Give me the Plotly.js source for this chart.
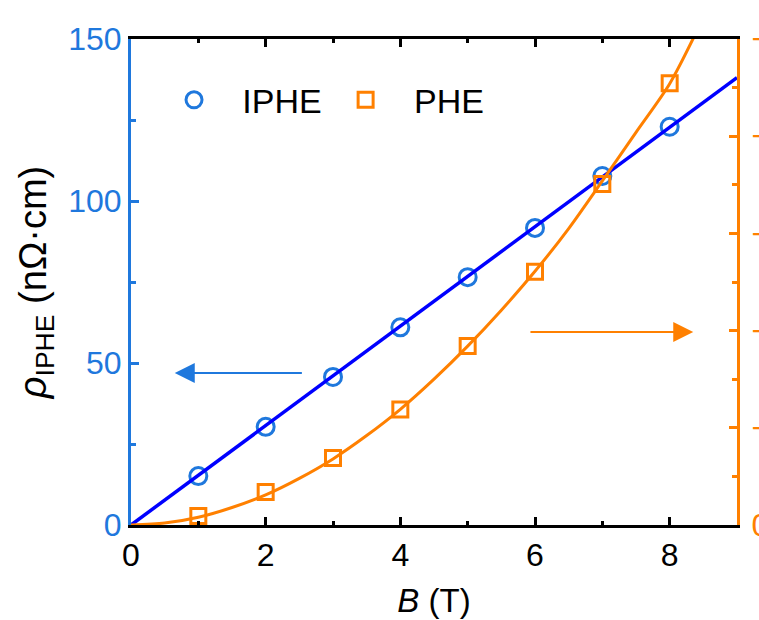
<!DOCTYPE html>
<html>
<head>
<meta charset="utf-8">
<script src="https://cdn.plot.ly/plotly-3.0.1.min.js"></script>
<style>
  html, body { margin: 0; padding: 0; overflow: hidden; background: #fff; }
  #chart { width: 820px; height: 620px; }
</style>
</head>
<body>
<div id="chart"></div>
<script>
// Measured points: field B (T)
const fieldB = [1, 2, 3, 4, 5, 6, 7, 8];
// In-plane planar Hall resistivity (left axis, nΩ·cm)
const rhoIPHE = [15.1, 30.3, 45.7, 61.0, 76.5, 91.7, 107.7, 122.9];
// Planar Hall resistivity (right axis)
const rhoPHE = [-4.6, -17.0, -34.5, -59.4, -92.1, -130.3, -175.4, -227.2];

// Linear fit to IPHE
const fitIPHEB = [0, 9];
const fitIPHE = [0, 138.1];
// Smooth fit to PHE
const fitPHEB = [0, 0.5, 1, 1.5, 2, 2.5, 3, 3.5, 4, 4.5, 5, 5.5, 6, 6.5, 7, 7.5, 8, 8.5];
const fitPHE = [0, -1.0, -4.0, -9.0, -15.5, -24, -34, -46, -59.5, -75, -92, -110.5, -130.5, -152.5, -177, -202, -227, -261];

// Arrow anchors pointing each data set to its axis
const arrowLeft = { tail: [2.56, 46.9], head: [0.65, 46.9] };
const arrowRight = { tail: [5.91, 59.6], head: [8.35, 59.6] };

const FONT = 'Liberation Sans, Arial, sans-serif';
const BLUE_AXIS = '#1f78dd';
const BLUE_LINE = '#0000ff';
const ORANGE = '#ff8000';
const NB = '\u00a0';

const traces = [
  {
    x: fieldB, y: rhoIPHE, type: 'scatter', mode: 'markers',
    name: NB + NB + NB + 'IPHE' + NB + NB,
    marker: { symbol: 'circle-open', size: 17, color: BLUE_AXIS, line: { width: 3, color: BLUE_AXIS } },
    yaxis: 'y', showlegend: true
  },
  {
    x: fieldB, y: rhoPHE, type: 'scatter', mode: 'markers',
    name: NB + NB + NB + 'PHE',
    marker: { symbol: 'square-open', size: 15, color: ORANGE, line: { width: 3, color: ORANGE } },
    yaxis: 'y2', showlegend: true
  },
  {
    x: fitIPHEB, y: fitIPHE, type: 'scatter', mode: 'lines',
    line: { color: BLUE_LINE, width: 3.5 }, yaxis: 'y', showlegend: false, hoverinfo: 'skip'
  },
  {
    x: fitPHEB, y: fitPHE, type: 'scatter', mode: 'lines',
    line: { color: ORANGE, width: 3, shape: 'spline', smoothing: 0.8 }, yaxis: 'y2', showlegend: false, hoverinfo: 'skip'
  }
];

const layout = {
  width: 820, height: 620,
  margin: { l: 131, r: 83, t: 39, b: 95 },
  paper_bgcolor: '#fff', plot_bgcolor: '#fff',
  font: { family: FONT, size: 32, color: '#000' },
  showlegend: true,
  legend: {
    orientation: 'h', x: 0.071, y: 0.874, xanchor: 'left', yanchor: 'middle',
    font: { family: FONT, size: 34, color: '#000' }, bgcolor: 'rgba(0,0,0,0)'
  },
  xaxis: {
    range: [0, 9], tick0: 0, dtick: 2,
    showline: true, linecolor: '#000', linewidth: 3, mirror: 'ticks',
    ticks: 'inside', ticklen: 8, tickwidth: 3, tickcolor: '#000',
    minor: { dtick: 1, ticks: 'inside', ticklen: 4, tickwidth: 3, tickcolor: '#000' },
    showgrid: false, zeroline: false,
    tickfont: { family: FONT, size: 32, color: '#000' },
    title: { text: '<i>B</i> (T)', font: { family: FONT, size: 33, color: '#000' }, standoff: 17 }
  },
  yaxis: {
    range: [0, 150], tick0: 0, dtick: 50,
    showline: true, linecolor: BLUE_AXIS, linewidth: 3,
    ticks: 'inside', ticklen: 8, tickwidth: 3, tickcolor: BLUE_AXIS,
    minor: { dtick: 25, ticks: 'inside', ticklen: 5, tickwidth: 3, tickcolor: BLUE_AXIS },
    showgrid: false, zeroline: false,
    tickfont: { family: FONT, size: 32, color: BLUE_AXIS },
    title: { text: NB + NB + '<i>ρ</i><sub>IPHE</sub> (nΩ·cm)', font: { family: FONT, size: 38, color: '#000' }, standoff: 10 }
  },
  yaxis2: {
    overlaying: 'y', side: 'right',
    range: [0, -250], tick0: 0, dtick: 50,
    showline: true, linecolor: ORANGE, linewidth: 3,
    ticks: 'inside', ticklen: 8, tickwidth: 3, tickcolor: ORANGE,
    minor: { dtick: 25, ticks: 'inside', ticklen: 5, tickwidth: 3, tickcolor: ORANGE },
    showgrid: false, zeroline: false,
    ticklabelstandoff: 5,
    tickfont: { family: FONT, size: 32, color: ORANGE }
  },
  annotations: [
    {
      xref: 'x', yref: 'y', axref: 'x', ayref: 'y',
      x: arrowLeft.head[0], y: arrowLeft.head[1], ax: arrowLeft.tail[0], ay: arrowLeft.tail[1],
      text: '', showarrow: true, arrowhead: 2, arrowsize: 2, arrowwidth: 2, arrowcolor: BLUE_AXIS
    },
    {
      xref: 'x', yref: 'y', axref: 'x', ayref: 'y',
      x: arrowRight.head[0], y: arrowRight.head[1], ax: arrowRight.tail[0], ay: arrowRight.tail[1],
      text: '', showarrow: true, arrowhead: 2, arrowsize: 2, arrowwidth: 2, arrowcolor: ORANGE
    }
  ]
};

Plotly.newPlot('chart', traces, layout, { displayModeBar: false, staticPlot: true, responsive: false });
</script>
</body>
</html>
